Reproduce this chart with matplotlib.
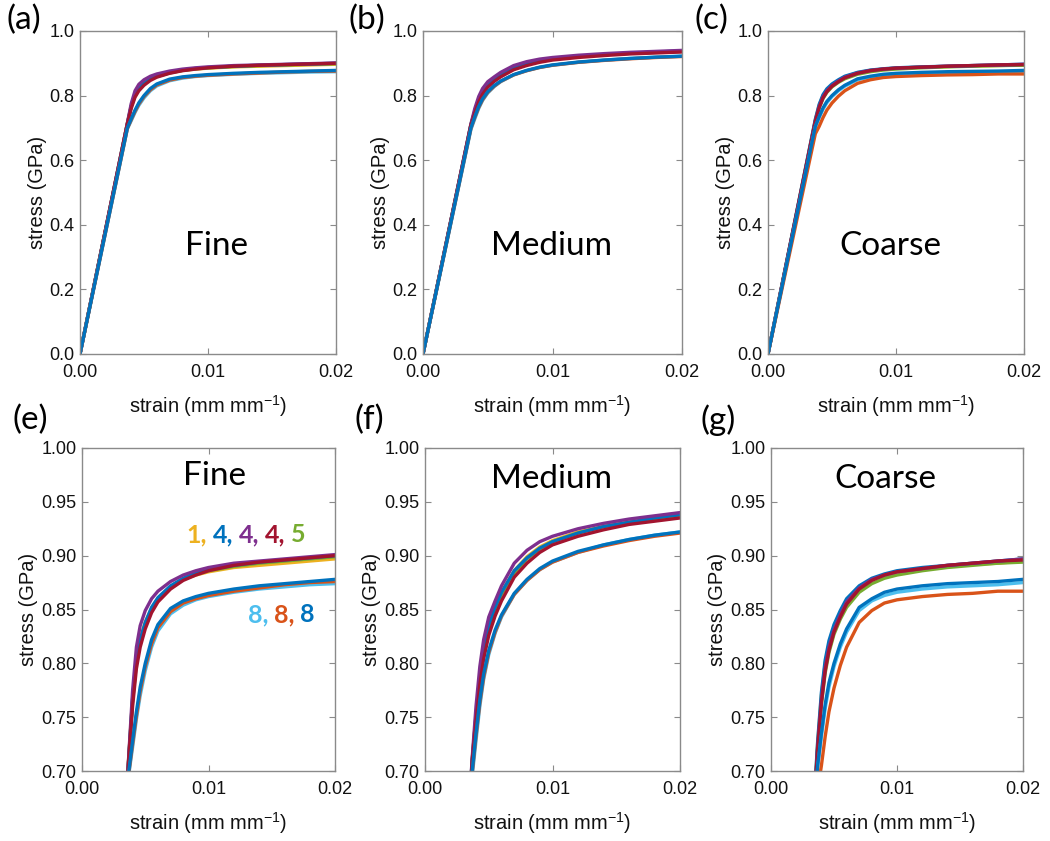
import matplotlib
matplotlib.use("Agg")
import matplotlib.pyplot as plt
from matplotlib.offsetbox import TextArea, HPacker, AnnotationBbox

# ---------------- data ----------------
strain = [0, 0.0037, 0.0040, 0.0043, 0.0046, 0.0050, 0.0055, 0.0060, 0.0070,
          0.0080, 0.0090, 0.0100, 0.0120, 0.0140, 0.0160, 0.0180, 0.0200]

series_names = ["yellow", "green", "blue_a", "purple", "red", "lightblue", "orange", "blue_b"]
series_colors = ["#EDB120", "#77AC30", "#0072BD", "#7E2F8E", "#A2142F", "#4DBEEE", "#D95319", "#0072BD"]

fine = {
    "yellow":    [0, 0.714, 0.768, 0.805, 0.823, 0.838, 0.851, 0.860, 0.871, 0.878, 0.882, 0.885, 0.889, 0.891, 0.893, 0.895, 0.897],
    "green":     [0, 0.713, 0.765, 0.800, 0.820, 0.836, 0.850, 0.859, 0.870, 0.878, 0.883, 0.886, 0.890, 0.893, 0.895, 0.897, 0.899],
    "blue_a":    [0, 0.713, 0.767, 0.803, 0.822, 0.838, 0.852, 0.861, 0.872, 0.879, 0.884, 0.887, 0.891, 0.894, 0.896, 0.898, 0.900],
    "purple":    [0, 0.715, 0.775, 0.815, 0.835, 0.849, 0.860, 0.867, 0.876, 0.882, 0.886, 0.889, 0.893, 0.895, 0.897, 0.899, 0.901],
    "red":       [0, 0.712, 0.760, 0.795, 0.815, 0.832, 0.847, 0.857, 0.869, 0.877, 0.882, 0.886, 0.891, 0.894, 0.896, 0.898, 0.900],
    "lightblue": [0, 0.697, 0.722, 0.748, 0.770, 0.793, 0.815, 0.830, 0.846, 0.854, 0.859, 0.862, 0.866, 0.869, 0.871, 0.873, 0.874],
    "orange":    [0, 0.698, 0.725, 0.751, 0.774, 0.797, 0.818, 0.833, 0.848, 0.856, 0.860, 0.863, 0.867, 0.870, 0.873, 0.875, 0.876],
    "blue_b":    [0, 0.700, 0.728, 0.755, 0.778, 0.800, 0.822, 0.836, 0.851, 0.858, 0.862, 0.865, 0.869, 0.872, 0.874, 0.876, 0.878],
}

medium = {
    "yellow":    [0, 0.710, 0.752, 0.787, 0.812, 0.834, 0.851, 0.866, 0.886, 0.899, 0.908, 0.914, 0.922, 0.927, 0.931, 0.934, 0.937],
    "green":     [0, 0.709, 0.750, 0.785, 0.810, 0.832, 0.849, 0.864, 0.884, 0.897, 0.906, 0.913, 0.921, 0.927, 0.931, 0.934, 0.937],
    "blue_a":    [0, 0.710, 0.752, 0.788, 0.813, 0.835, 0.852, 0.866, 0.886, 0.898, 0.907, 0.913, 0.921, 0.927, 0.931, 0.935, 0.938],
    "purple":    [0, 0.712, 0.760, 0.797, 0.822, 0.843, 0.858, 0.872, 0.893, 0.905, 0.913, 0.918, 0.925, 0.930, 0.934, 0.937, 0.940],
    "red":       [0, 0.708, 0.746, 0.780, 0.804, 0.826, 0.844, 0.858, 0.880, 0.893, 0.903, 0.910, 0.918, 0.924, 0.929, 0.932, 0.935],
    "lightblue": [0, 0.695, 0.728, 0.760, 0.785, 0.808, 0.828, 0.843, 0.864, 0.877, 0.887, 0.894, 0.903, 0.910, 0.915, 0.919, 0.922],
    "orange":    [0, 0.698, 0.732, 0.763, 0.787, 0.810, 0.829, 0.844, 0.864, 0.877, 0.887, 0.894, 0.903, 0.909, 0.914, 0.918, 0.921],
    "blue_b":    [0, 0.700, 0.735, 0.766, 0.790, 0.812, 0.831, 0.845, 0.865, 0.878, 0.888, 0.895, 0.904, 0.910, 0.915, 0.919, 0.922],
}

coarse = {
    "yellow":    [0, 0.725, 0.770, 0.800, 0.818, 0.833, 0.846, 0.858, 0.871, 0.878, 0.882, 0.885, 0.888, 0.890, 0.892, 0.893, 0.895],
    "green":     [0, 0.720, 0.762, 0.791, 0.810, 0.827, 0.841, 0.852, 0.866, 0.874, 0.879, 0.882, 0.886, 0.889, 0.891, 0.893, 0.894],
    "blue_a":    [0, 0.727, 0.773, 0.803, 0.821, 0.836, 0.849, 0.860, 0.872, 0.879, 0.883, 0.886, 0.889, 0.891, 0.893, 0.895, 0.897],
    "purple":    [0, 0.722, 0.766, 0.796, 0.815, 0.831, 0.845, 0.857, 0.870, 0.878, 0.882, 0.885, 0.888, 0.891, 0.893, 0.895, 0.897],
    "red":       [0, 0.720, 0.763, 0.793, 0.812, 0.829, 0.843, 0.855, 0.869, 0.877, 0.882, 0.885, 0.888, 0.891, 0.893, 0.895, 0.896],
    "lightblue": [0, 0.703, 0.732, 0.758, 0.778, 0.797, 0.815, 0.829, 0.849, 0.858, 0.863, 0.866, 0.869, 0.871, 0.872, 0.873, 0.875],
    "orange":    [0, 0.682, 0.705, 0.732, 0.755, 0.777, 0.798, 0.815, 0.838, 0.849, 0.856, 0.859, 0.862, 0.864, 0.865, 0.867, 0.867],
    "blue_b":    [0, 0.705, 0.735, 0.762, 0.782, 0.800, 0.818, 0.832, 0.852, 0.860, 0.866, 0.869, 0.872, 0.874, 0.875, 0.876, 0.878],
}

datasets = [fine, medium, coarse]
group_names = ["Fine", "Medium", "Coarse"]
panel_labels_top = ["(a)", "(b)", "(c)"]
panel_labels_bottom = ["(e)", "(f)", "(g)"]

xticks = [0.0, 0.01, 0.02]
xticklabels = ["0.00", "0.01", "0.02"]
yticks_full = [0.0, 0.2, 0.4, 0.6, 0.8, 1.0]
yticks_zoom = [0.70, 0.75, 0.80, 0.85, 0.90, 0.95, 1.00]

legend_top = [("1,", "#EDB120"), ("4,", "#0072BD"), ("4,", "#7E2F8E"), ("4,", "#A2142F"), ("5", "#77AC30")]
legend_bottom = [("8,", "#4DBEEE"), ("8,", "#D95319"), ("8", "#0072BD")]

# ---------------- layout ----------------
W, H = 1050, 841
fig = plt.figure(figsize=(W / 100, H / 100), dpi=100)

def px_axes(l, t, r, b):
    return fig.add_axes([l / W, 1 - b / H, (r - l) / W, (b - t) / H])

top_boxes = [(80, 31, 336, 354), (423, 31, 682, 354), (768, 31, 1024, 354)]
bot_boxes = [(82, 448, 335, 771), (425, 448, 680, 771), (771, 448, 1023, 771)]

TICK_FONT = "Liberation Sans"
CAL = "Lato"
spine_col = "#8a8a8a"
txt_col = "#111111"

plt.rcParams["mathtext.fontset"] = "custom"
plt.rcParams["mathtext.rm"] = TICK_FONT
plt.rcParams["mathtext.it"] = TICK_FONT

def style(ax, yticks, yfmt, ylim):
    ax.set_xlim(0, 0.02)
    ax.set_ylim(*ylim)
    ax.set_xticks(xticks)
    ax.set_xticklabels(xticklabels)
    ax.set_yticks(yticks)
    ax.set_yticklabels([yfmt % v for v in yticks])
    for s in ax.spines.values():
        s.set_color(spine_col)
        s.set_linewidth(1.0)
    ax.tick_params(direction="in", length=4, width=0.8, color=spine_col,
                   top=True, right=True, labelsize=13, labelcolor=txt_col, pad=4)
    ax.tick_params(axis="x", pad=7)
    for lab in ax.get_xticklabels() + ax.get_yticklabels():
        lab.set_family(TICK_FONT)
    ax.set_xlabel("strain (mm mm$^{-1}$)", fontsize=14.5, family=TICK_FONT,
                  color=txt_col, labelpad=9)
    ax.set_ylabel("stress (GPa)", fontsize=14.5, family=TICK_FONT,
                  color=txt_col, labelpad=2)

def draw(ax, data):
    for name, col in zip(series_names, series_colors):
        ax.plot(strain, data[name], color=col, lw=2.4, solid_joinstyle="round",
                solid_capstyle="round", clip_on=True)

for i in range(3):
    ax = px_axes(*top_boxes[i])
    draw(ax, datasets[i])
    style(ax, yticks_full, "%.1f", (0, 1.0))
    l, t, r, b = top_boxes[i]
    fig.text((l - 74) / W, 1 - 20 / H, panel_labels_top[i], fontsize=24,
             family=CAL, va="center", ha="left", color="black")

    ax2 = px_axes(*bot_boxes[i])
    draw(ax2, datasets[i])
    style(ax2, yticks_zoom, "%.2f", (0.70, 1.00))
    l, t, r, b = bot_boxes[i]
    fig.text((l - 70) / W, 1 - 420 / H, panel_labels_bottom[i], fontsize=24,
             family=CAL, va="center", ha="left", color="black")

# group names
top_name_pos = [(216, 246), (551, 246), (890, 246)]
bot_name_pos = [(215, 476), (552, 479), (885, 479)]
for name, (x, y) in zip(group_names, top_name_pos):
    fig.text(x / W, 1 - y / H, name, fontsize=24, family=CAL, ha="center", va="center")
for name, (x, y) in zip(group_names, bot_name_pos):
    fig.text(x / W, 1 - y / H, name, fontsize=24, family=CAL, ha="center", va="center")

# coloured number annotations in panel (e)
def colored_row(items, xy_px):
    areas = [TextArea(s, textprops=dict(color=c, fontsize=18, family=CAL, fontweight="bold"))
             for s, c in items]
    box = HPacker(children=areas, pad=0, sep=4, align="baseline")
    ab = AnnotationBbox(box, (xy_px[0] / W, 1 - xy_px[1] / H), xycoords="figure fraction",
                        box_alignment=(0.5, 0.5), frameon=False, pad=0)
    fig.add_artist(ab)

colored_row(legend_top, (246, 535))
colored_row(legend_bottom, (281, 615))

fig.savefig("out.png", dpi=100)
